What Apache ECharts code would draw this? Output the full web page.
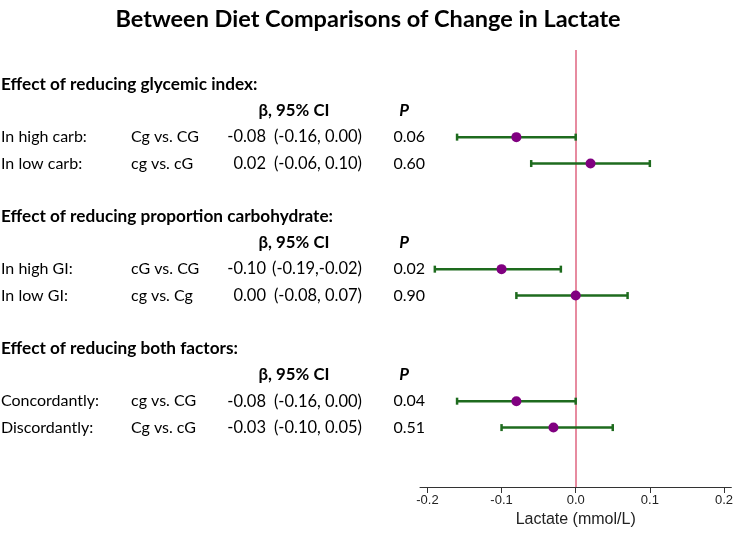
<!DOCTYPE html>
<html>
<head>
<meta charset="utf-8">
<script src="https://cdn.jsdelivr.net/npm/echarts@6/dist/echarts.min.js"></script>
<style>html,body{margin:0;padding:0;background:#fff}#c{width:736px;height:534px}</style>
</head>
<body>
<div id="c"></div>
<script>
const titleText = 'Between Diet Comparisons of Change in Lactate';
const sections = ['Effect of reducing glycemic index:', 'Effect of reducing proportion carbohydrate:', 'Effect of reducing both factors:'];
const rowLabels = ['In high carb:', 'In low carb:', 'In high GI:', 'In low GI:', 'Concordantly:', 'Discordantly:'];
const comparisons = ['Cg vs. CG', 'cg vs. cG', 'cG vs. CG', 'cg vs. Cg', 'cg vs. CG', 'Cg vs. cG'];
const beta = [-0.08, 0.02, -0.10, 0.00, -0.08, -0.03];
const lower = [-0.16, -0.06, -0.19, -0.08, -0.16, -0.10];
const upper = [0.00, 0.10, -0.02, 0.07, 0.00, 0.05];
const ciText = ['-0.08 (-0.16, 0.00)', '0.02 (-0.06, 0.10)', '-0.10 (-0.19,-0.02)', '0.00 (-0.08, 0.07)', '-0.08 (-0.16, 0.00)', '-0.03 (-0.10, 0.05)'];
const pValues = ['0.06', '0.60', '0.02', '0.90', '0.04', '0.51'];
const xTicks = [-0.2, -0.1, 0, 0.1, 0.2];
const betaHeader = 'β, 95% CI';
const pHeader = 'P';
const axisName = 'Lactate (mmol/L)';

// row slot index: each section has header, column header, two rows, gap
const rowSlot = r => 5 * Math.floor(r / 2) + 2 + (r % 2);

const chart = echarts.init(document.getElementById('c'), null, {renderer: 'canvas'});
const TXT = 'Lato, "Noto Sans", sans-serif';
const AX = '"Liberation Sans", Arial, sans-serif';

const option = {
  animation: false,
  backgroundColor: '#fff',
  title: {
    text: titleText, left: 'center', top: 2,
    textStyle: {fontFamily: TXT, fontWeight: 'bold', fontSize: 23.5, color: '#000'}
  },
  grid: {left: 420, right: 2, top: 50, bottom: 47},
  xAxis: {
    type: 'value', min: -0.21, max: 0.21,
    splitLine: {show: false},
    axisLine: {show: true, onZero: false, lineStyle: {color: '#333', width: 1}},
    axisTick: {show: true, length: 6, customValues: xTicks, lineStyle: {color: '#333'}},
    axisLabel: {customValues: xTicks, margin: 7, fontFamily: AX, fontSize: 13, color: '#222',
      formatter: v => v.toFixed(1)},
    name: axisName, nameLocation: 'middle', nameGap: 22,
    nameTextStyle: {fontFamily: AX, fontSize: 16, color: '#222'}
  },
  yAxis: {type: 'value', inverse: true, min: -1.3, max: 15.25, show: false},
  series: [
    {
      type: 'custom', z: 3,
      data: beta.map((b, i) => [lower[i], upper[i], rowSlot(i)]),
      encode: {x: [0, 1], y: 2},
      renderItem: (params, api) => {
        const a = api.coord([api.value(0), api.value(2)]);
        const b = api.coord([api.value(1), api.value(2)]);
        const h = 3.5;
        const st = {stroke: '#1e6b1e', lineWidth: 2.5};
        return {type: 'group', children: [
          {type: 'line', shape: {x1: a[0], y1: a[1], x2: b[0], y2: b[1]}, style: st},
          {type: 'line', shape: {x1: a[0], y1: a[1] - h, x2: a[0], y2: a[1] + h}, style: st},
          {type: 'line', shape: {x1: b[0], y1: b[1] - h, x2: b[0], y2: b[1] + h}, style: st}
        ]};
      },
      markLine: {
        silent: true, symbol: 'none', z: 1,
        label: {show: false},
        lineStyle: {color: '#df6580', width: 1.5, type: 'solid'},
        data: [{xAxis: 0}]
      }
    },
    {
      type: 'scatter', z: 4,
      data: beta.map((b, i) => [b, rowSlot(i)]),
      symbolSize: 10,
      itemStyle: {color: '#800080', opacity: 1}
    }
  ]
};
chart.setOption(option);

const yPix = slot => chart.convertToPixel({yAxisIndex: 0}, slot);
const els = [];
const txt = (text, x, y, align, font) => els.push({
  type: 'text', silent: true,
  style: {text, x, y, align, verticalAlign: 'middle', font, fill: '#000'}
});
const F = '16px ' + TXT;
const FCI = '16.5px ' + TXT;
const FB = 'bold 17.2px ' + TXT;
sections.forEach((s, k) => {
  txt(s, 1, yPix(5 * k), 'left', FB);
  txt(betaHeader, 294, yPix(5 * k + 1), 'center', 'bold 16.8px ' + TXT);
  txt(pHeader, 404, yPix(5 * k + 1), 'center', 'italic bold 16.8px ' + TXT);
});
rowLabels.forEach((l, i) => {
  const y = yPix(rowSlot(i));
  const cut = ciText[i].indexOf(' ');
  txt(l, 1, y, 'left', F);
  txt(comparisons[i], 131, y, 'left', F);
  txt(ciText[i].slice(0, cut), 266, y, 'right', FCI);
  txt(ciText[i].slice(cut + 1), 362, y, 'right', FCI);
  txt(pValues[i], 425, y, 'right', F);
});
chart.setOption({graphic: {elements: els}});
</script>
</body>
</html>
